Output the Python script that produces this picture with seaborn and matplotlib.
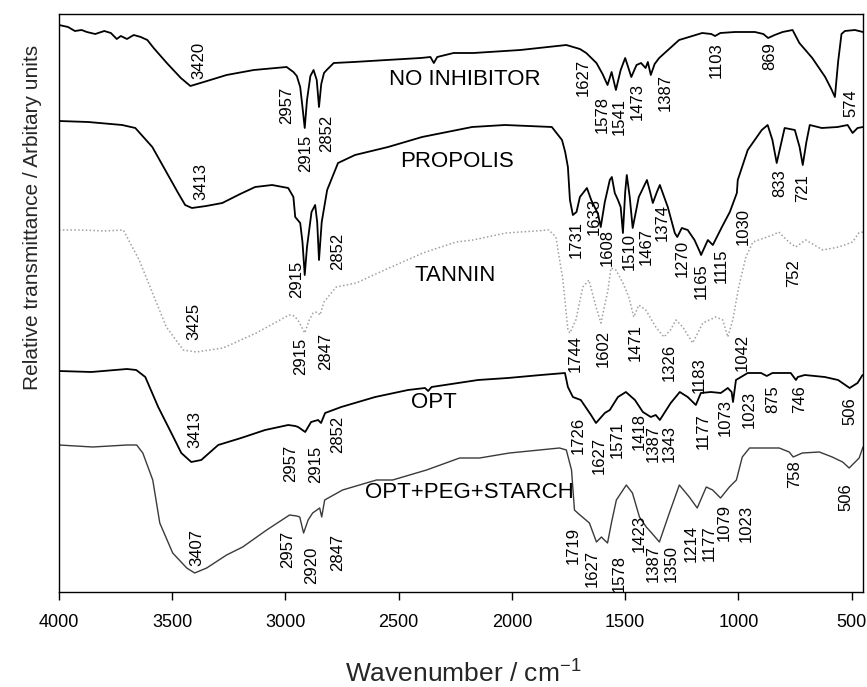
import matplotlib
matplotlib.use("Agg")
import matplotlib.pyplot as plt
import seaborn as sns

# --- spectra: wavenumber (cm-1) and stacked height (arb. units) ---
wn_noinh = [4000, 3960, 3930, 3900, 3877, 3840, 3800, 3771, 3745, 3727, 3700, 3670, 3639, 3610, 3582,
            3524, 3462, 3420, 3361, 3260, 3140, 2995, 2965, 2950, 2935, 2925, 2915, 2905, 2890, 2876,
            2862, 2852, 2842, 2830, 2818, 2787, 2699, 2553, 2403, 2360, 2345, 2330, 2258, 2170, 1963,
            1760, 1700, 1672, 1627, 1600, 1578, 1560, 1541, 1520, 1500, 1473, 1450, 1430, 1410, 1400,
            1387, 1370, 1350, 1262, 1160, 1120, 1103, 1080, 1015, 927, 890, 869, 840, 805, 761,
            731, 674, 617, 590, 574, 560, 545, 530, 486, 450]
t_noinh = [567, 565, 561, 562, 560, 558, 561, 559, 553, 556, 553, 557, 555, 552, 544,
           529, 514, 506, 510, 517, 522, 525, 520, 516, 505, 485, 464, 492, 516, 522,
           512, 485, 508, 519, 522, 529, 530, 532, 534, 535, 529, 535, 539, 539, 542,
           547, 543, 539, 529, 518, 507, 520, 502, 522, 534, 515, 527, 529, 524, 530,
           517, 528, 534, 552, 559, 558, 556, 559, 560, 560, 558, 554, 557, 560, 562,
           549, 534, 515, 503, 495, 530, 558, 561, 562, 560]

wn_prop = [4000, 3871, 3721, 3663, 3588, 3531, 3474, 3443, 3413, 3350, 3279, 3200, 3134, 3059, 2988,
           2965, 2957, 2935, 2925, 2915, 2905, 2885, 2869, 2860, 2852, 2840, 2816, 2768, 2693, 2547,
           2397, 2176, 2031, 1824, 1779, 1765, 1753, 1744, 1731, 1715, 1700, 1669, 1650, 1633, 1620,
           1608, 1590, 1568, 1559, 1546, 1532, 1520, 1510, 1500, 1493, 1480, 1467, 1440, 1404, 1390,
           1378, 1360, 1347, 1312, 1281, 1270, 1250, 1224, 1194, 1170, 1165, 1135, 1113, 1073, 1038,
           1007, 1003, 959, 897, 871, 850, 831, 810, 796, 751, 730, 716, 700, 685, 632,
           562, 518, 496, 474, 450]
t_prop = [471, 470, 467, 464, 445, 422, 399, 387, 384, 386, 389, 398, 405, 407, 404,
          395, 375, 369, 350, 317, 345, 380, 387, 370, 332, 370, 402, 429, 437, 445,
          455, 465, 467, 465, 452, 440, 425, 392, 377, 380, 395, 404, 392, 384, 378,
          365, 390, 412, 415, 399, 392, 385, 359, 400, 417, 395, 364, 395, 412, 400,
          389, 400, 407, 385, 359, 355, 364, 362, 352, 340, 337, 352, 347, 365, 380,
          399, 412, 442, 462, 467, 452, 429, 450, 464, 462, 445, 427, 450, 467, 464,
          465, 467, 459, 464, 465]

wn_tan = [4000, 3900, 3800, 3716, 3646, 3580, 3526, 3451, 3394, 3275, 3129, 2984, 2960, 2940, 2915,
          2895, 2878, 2860, 2847, 2830, 2776, 2688, 2543, 2393, 2247, 2172, 2026, 1837, 1806, 1775,
          1753, 1744, 1718, 1687, 1660, 1629, 1607, 1576, 1563, 1541, 1510, 1484, 1462, 1440, 1409,
          1365, 1329, 1300, 1276, 1246, 1202, 1157, 1100, 1069, 1047, 1025, 999, 967, 936, 848,
          822, 778, 747, 703, 628, 557, 496, 469, 450]
t_tan = [362, 362, 361, 362, 332, 295, 265, 242, 240, 244, 259, 277, 276, 270, 259,
         272, 279, 280, 277, 290, 305, 309, 324, 339, 350, 352, 359, 362, 355, 312,
         262, 259, 272, 305, 312, 285, 269, 302, 324, 322, 309, 295, 275, 287, 282,
         265, 255, 262, 272, 265, 249, 269, 275, 272, 255, 272, 305, 335, 350, 357,
         360, 350, 345, 352, 342, 345, 350, 359, 360]

wn_opt = [4000, 3857, 3700, 3659, 3619, 3562, 3504, 3460, 3416, 3372, 3297, 3196, 3090, 2988, 2957,
          2944, 2913, 2887, 2856, 2843, 2825, 2754, 2604, 2459, 2384, 2370, 2355, 2238, 2150, 2018,
          1872, 1766, 1753, 1731, 1696, 1651, 1629, 1590, 1568, 1532, 1497, 1457, 1422, 1387, 1365,
          1347, 1299, 1259, 1224, 1188, 1166, 1122, 1078, 1047, 1030, 1024, 1011, 959, 900, 875,
          850, 769, 746, 738, 707, 619, 560, 509, 474, 452]
t_opt = [221, 220, 223, 222, 215, 185, 159, 139, 130, 132, 147, 154, 162, 167, 166,
         165, 160, 170, 172, 169, 179, 185, 195, 202, 204, 201, 205, 209, 212, 214,
         217, 219, 205, 195, 192, 177, 169, 179, 182, 195, 200, 192, 180, 175, 177,
         172, 189, 200, 195, 187, 199, 200, 199, 204, 200, 190, 212, 219, 219, 216,
         219, 219, 212, 215, 217, 215, 212, 204, 209, 217]

wn_mix = [4000, 3851, 3700, 3657, 3630, 3586, 3555, 3498, 3436, 3401, 3348, 3260, 3189, 3083, 2982,
          2950, 2937, 2920, 2900, 2880, 2849, 2840, 2827, 2748, 2598, 2527, 2377, 2231, 2143, 2011,
          1790, 1760, 1737, 1724, 1705, 1689, 1658, 1627, 1605, 1592, 1578, 1560, 1539, 1495, 1468,
          1437, 1407, 1387, 1349, 1305, 1261, 1217, 1182, 1142, 1114, 1079, 1040, 1009, 983, 951,
          877, 820, 776, 758, 718, 643, 586, 540, 511, 467, 450]
t_mix = [147, 145, 147, 147, 139, 112, 69, 39, 24, 19, 24, 37, 45, 62, 77,
         76, 75, 59, 72, 79, 84, 75, 92, 102, 112, 112, 122, 134, 134, 139,
         144, 142, 122, 82, 78, 75, 69, 50, 55, 52, 49, 70, 92, 107, 99,
         75, 65, 60, 50, 79, 107, 95, 84, 105, 102, 94, 105, 112, 135, 144,
         144, 144, 140, 135, 139, 140, 135, 130, 124, 134, 145]

# peak labels: (text, wavenumber position, height position)
peaks_noinh = [("3420", 3383, 532), ("2957", 2995, 487), ("2915", 2911, 439), ("2852", 2818, 459),
               ("1627", 1685, 515), ("1578", 1601, 477), ("1541", 1526, 475), ("1473", 1446, 490),
               ("1387", 1323, 499), ("1103", 1098, 532), ("869", 860, 536), ("574", 502, 489)]
peaks_prop = [("3413", 3376, 410), ("2915", 2949, 313), ("2852", 2768, 341), ("1731", 1718, 352),
              ("1633", 1638, 375), ("1608", 1581, 344), ("1510", 1484, 340), ("1467", 1409, 345),
              ("1374", 1338, 369), ("1270", 1250, 334), ("1165", 1162, 311), ("1115", 1074, 326),
              ("1030", 977, 365), ("833", 818, 409), ("721", 716, 404)]
peaks_tan = [("3425", 3403, 271), ("2915", 2931, 236), ("2847", 2821, 241), ("1744", 1722, 238),
             ("1602", 1598, 244), ("1471", 1457, 249), ("1326", 1307, 230), ("1183", 1171, 217),
             ("1042", 981, 240), ("752", 756, 319)]
peaks_opt = [("3413", 3399, 163), ("2957", 2979, 129), ("2915", 2869, 128), ("2852", 2768, 158),
             ("1726", 1709, 157), ("1627", 1616, 137), ("1571", 1537, 153), ("1418", 1440, 161),
             ("1387", 1374, 149), ("1343", 1307, 149), ("1177", 1157, 161), ("1073", 1060, 175),
             ("1023", 954, 183), ("875", 849, 193), ("746", 729, 193), ("506", 509, 181)]
peaks_mix = [("3407", 3392, 45), ("2957", 2991, 43), ("2920", 2885, 27), ("2847", 2770, 40),
             ("1719", 1729, 47), ("1627", 1645, 24), ("1578", 1526, 19), ("1423", 1437, 59),
             ("1387", 1375, 29), ("1350", 1296, 28), ("1214", 1208, 49), ("1177", 1129, 49),
             ("1079", 1063, 70), ("1023", 966, 69), ("758", 753, 118), ("506", 525, 95)]

names = [("NO INHIBITOR", 2210, 512), ("PROPOLIS", 2243, 430), ("TANNIN", 2251, 316),
         ("OPT", 2344, 190), ("OPT+PEG+STARCH", 2188, 100)]

sns.set_theme(style="ticks")
plt.rcParams["font.family"] = ["Liberation Sans", "DejaVu Sans"]
plt.rcParams["mathtext.default"] = "regular"

fig = plt.figure(figsize=(8.67, 6.87), dpi=100)
ax = fig.add_axes([59 / 867, 95 / 687, 804 / 867, 578 / 687])

series = [
    (wn_noinh, t_noinh, "black", "-", 1.3),
    (wn_prop, t_prop, "black", "-", 1.3),
    (wn_tan, t_tan, "#a0a0a0", (0, (1, 1.5)), 1.1),
    (wn_opt, t_opt, "black", "-", 1.3),
    (wn_mix, t_mix, "#3a3a3a", "-", 1.0),
]
for wn, t, col, ls, lw in series:
    sns.lineplot(x=wn, y=t, ax=ax, color=col, linestyle=ls, linewidth=lw,
                 sort=False, estimator=None)

for plist in [peaks_noinh, peaks_prop, peaks_tan, peaks_opt, peaks_mix]:
    for txt, x, y in plist:
        ax.text(x, y, txt, rotation=90, ha="center", va="center", fontsize=12, color="black")

for txt, x, y in names:
    ax.text(x, y, txt, ha="center", va="center", fontsize=16, color="black")

ax.set_xlim(4000, 450)
ax.set_ylim(0, 578)
ax.set_xticks([4000, 3500, 3000, 2500, 2000, 1500, 1000, 500])
ax.set_yticks([])
ax.tick_params(axis="x", direction="out", length=5.5, width=1, pad=10,
               labelsize=13, colors="black")
for s in ax.spines.values():
    s.set_color("black")
    s.set_linewidth(1.0)

fig.text(33 / 867, 1 - 217 / 687, "Relative transmittance / Arbitary units",
         rotation=90, ha="center", va="center", fontsize=15)
fig.text(463 / 867, 1 - 674 / 687, "Wavenumber / cm$^{-1}$",
         ha="center", va="center", fontsize=19)

fig.savefig("out.png", dpi=100)
